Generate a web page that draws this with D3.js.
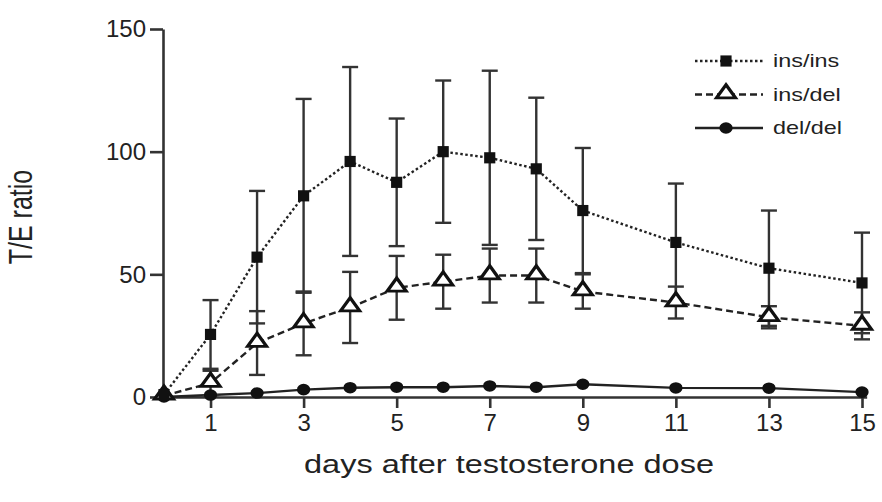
<!DOCTYPE html>
<html>
<head>
<meta charset="utf-8">
<script src="https://cdn.jsdelivr.net/npm/d3@7"></script>
<style>
  body { margin: 0; background: #fff; }
  text { font-family: "Liberation Sans", Arial, sans-serif; fill: #222; }
</style>
</head>
<body>
<div id="chart"></div>
<script>
// values
const days = [0, 1, 2, 3, 4, 5, 6, 7, 8, 9, 11, 13, 15];
const insIns    = [1, 25.5, 57, 82, 96, 87.5, 100, 97.5, 93, 76, 63, 52.5, 46.5];
const insInsErr = [0, 14, 27, 39.5, 38.5, 26, 29, 35.5, 29, 25.5, 24, 23.5, 20.5];
const insDel    = [0.5, 5.7, 22, 30, 36.5, 44.5, 47, 49.5, 49.5, 43, 38.5, 32.5, 29];
const insDelErr = [0, 5, 13, 13, 14.5, 13, 11, 11, 11, 7, 6.5, 4.5, 5.5];
const delDel    = [0, 0.8, 1.6, 3, 3.8, 4, 4, 4.5, 4, 5.2, 3.7, 3.6, 2];
const xTicks = [1, 3, 5, 7, 9, 11, 13, 15];
const yTicks = [0, 50, 100, 150];
const seriesNames = ["ins/ins", "ins/del", "del/del"];

const W = 882, H = 502;

const svg = d3.select("#chart")
  .append("svg")
  .attr("width", W)
  .attr("height", H);

const x = d3.scaleLinear().domain([0, 15]).range([164, 862]);
const y = d3.scaleLinear().domain([0, 150]).range([397, 29]);

const series = [
  { name: seriesNames[0], vals: insIns, err: insInsErr, dash: "2.5,2.5", marker: "square" },
  { name: seriesNames[1], vals: insDel, err: insDelErr, dash: "7,4", marker: "triangle" },
  { name: seriesNames[2], vals: delDel, err: null, dash: null, marker: "circle" }
];

function drawMarker(g, type) {
  if (type === "square") {
    g.append("path")
      .attr("d", d3.symbol(d3.symbolSquare, 125)())
      .attr("fill", "#111");
  } else if (type === "triangle") {
    g.append("path")
      .attr("d", d3.symbol(d3.symbolTriangle, 100)())
      .attr("transform", "translate(0,-1) scale(1.25,1)")
      .attr("fill", "#fff")
      .attr("stroke", "#111")
      .attr("stroke-width", 2.8);
  } else {
    g.append("path")
      .attr("d", d3.symbol(d3.symbolCircle, 105)())
      .attr("transform", "scale(1.15,1)")
      .attr("fill", "#111");
  }
}

// Axes
const xAxisScale = d3.scaleLinear().domain([-0.03, 15.1]).range([x(-0.03), x(15.1)]);
const xAxis = svg.append("g")
  .attr("transform", `translate(0,${y(0)})`)
  .call(d3.axisBottom(xAxisScale).tickValues(xTicks).tickSize(11).tickSizeOuter(0).tickPadding(6));
xAxis.select(".domain").attr("stroke", "#333").attr("stroke-width", 2.6);
xAxis.selectAll(".tick line").attr("stroke", "#333").attr("stroke-width", 2.6);
xAxis.selectAll(".tick text")
  .attr("font-size", 24)
  .attr("fill", "#222")
  .attr("font-family", "Liberation Sans, Arial, sans-serif");

const yAxis = svg.append("g")
  .attr("transform", `translate(${x(0) - 1},0)`)
  .call(d3.axisLeft(y).tickValues(yTicks).tickSize(13).tickSizeOuter(0).tickPadding(4));
yAxis.select(".domain").attr("stroke", "#333").attr("stroke-width", 2.6);
yAxis.selectAll(".tick line").attr("stroke", "#333").attr("stroke-width", 2.6);
yAxis.selectAll(".tick text")
  .attr("font-size", 24)
  .attr("fill", "#222")
  .attr("font-family", "Liberation Sans, Arial, sans-serif");

// Lines
const line = d3.line().x(d => x(d[0])).y(d => y(d[1]));
series.forEach(s => {
  svg.append("path")
    .datum(days.map((d, i) => [d, s.vals[i]]))
    .attr("fill", "none")
    .attr("stroke", "#222")
    .attr("stroke-width", 2.4)
    .attr("stroke-dasharray", s.dash)
    .attr("d", line);
});

// Error bars
series.filter(s => s.err).forEach(s => {
  const g = svg.append("g").attr("stroke", "#333").attr("stroke-width", 2.4);
  days.forEach((d, i) => {
    if (!s.err[i]) return;
    const lo = y(s.vals[i] - s.err[i]), hi = y(s.vals[i] + s.err[i]);
    g.append("line").attr("x1", x(d)).attr("x2", x(d)).attr("y1", lo).attr("y2", hi);
    g.append("line").attr("x1", x(d) - 8).attr("x2", x(d) + 8).attr("y1", hi).attr("y2", hi);
    g.append("line").attr("x1", x(d) - 8).attr("x2", x(d) + 8).attr("y1", lo).attr("y2", lo);
  });
});

// Markers
series.slice().reverse().forEach(s => {
  days.forEach((d, i) => {
    const g = svg.append("g").attr("transform", `translate(${x(d)},${y(s.vals[i])})`);
    drawMarker(g, s.marker);
  });
});

// Legend
const legend = svg.append("g").attr("transform", "translate(695,61)");
series.forEach((s, i) => {
  const row = legend.append("g").attr("transform", `translate(0,${i * 33.5})`);
  row.append("line")
    .attr("x1", 0).attr("x2", 68)
    .attr("stroke", "#222")
    .attr("stroke-width", 2.4)
    .attr("stroke-dasharray", s.dash);
  drawMarker(row.append("g").attr("transform", "translate(31,0)"), s.marker);
  row.append("text")
    .attr("transform", "translate(78,0) scale(1.3,1)")
    .attr("dy", "0.35em")
    .attr("font-size", 18)
    .text(s.name);
});

// Axis titles
svg.append("text")
  .attr("transform", "translate(509,473) scale(1.3,1)")
  .attr("text-anchor", "middle")
  .attr("font-size", 25)
  .text("days after testosterone dose");

svg.append("text")
  .attr("transform", "translate(32,217) scale(1.3,1) rotate(-90)")
  .attr("text-anchor", "middle")
  .attr("font-size", 25)
  .text("T/E ratio");
</script>
</body>
</html>
